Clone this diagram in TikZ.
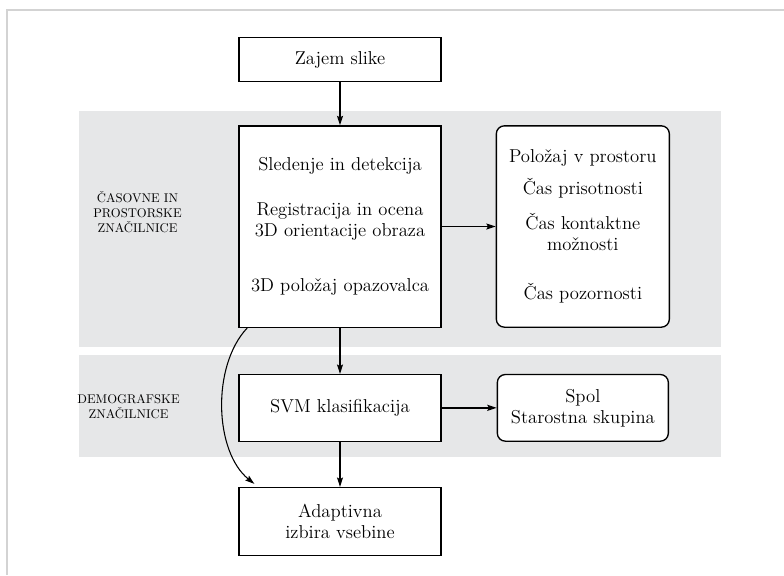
\documentclass[tikz,border=0pt]{standalone}
\usepackage{fontspec}
\usepackage{tikz}
\usetikzlibrary{arrows.meta,positioning}
\definecolor{bandgray}{HTML}{E6E7E8}
\definecolor{framegray}{HTML}{D3D3D3}
\tikzstyle{connector} = [line width=0.8pt,-{Stealth[length=7pt,width=4.5pt,inset=1.2pt]}]
\tikzstyle{stage} = [rectangle, draw, line width=1pt, fill=white, align=center, font=\fontsize{14}{15.75}\selectfont, minimum width=151.5pt]
\tikzstyle{result} = [stage, rounded corners=6pt]
\tikzstyle{band} = [fill=bandgray]
\tikzstyle{bandlabel} = [align=center, font=\fontsize{9.5}{11.25}\selectfont]

\begin{document}
\begin{tikzpicture}[x=0.75pt,y=-0.75pt]
        \useasboundingbox (0,0) rectangle (784,575);
        % frame and bands
        \draw [framegray, line width=1.5pt] (7,575) -- (7,10) -- (784,10);
        \fill [band] (79,111) rectangle (721,347);
        \fill [band] (79,355) rectangle (721,457);
        % stages
        \node (track) [stage, minimum height=151pt] at (340,226.5) {Sledenje in detekcija\\[18pt] Registracija in ocena\\ 3D orientacije obraza\\[25.5pt] 3D položaj opazovalca};
        \node (zajem) [stage, minimum height=33pt, above=32.25pt of track] {Zajem slike};
        \node (props) [result, minimum width=129.75pt, minimum height=151pt, right=40.5pt of track] {Položaj v prostoru\\[8.25pt] Čas prisotnosti\\[10.5pt] Čas kontaktne\\ možnosti\\[21pt] Čas pozornosti};
        \node (svm) [stage, minimum height=50pt, below=34.5pt of track] {SVM klasifikacija};
        \node (spol) [result, minimum width=128.25pt, minimum height=50pt, right=41.25pt of svm] {Spol\\ Starostna skupina};
        \node (adapt) [stage, minimum height=51pt, below=33.75pt of svm] {Adaptivna\\ izbira vsebine};
        % band labels
        \node (time-label) [bandlabel] at (137.5,211.7) {ČASOVNE IN\\ PROSTORSKE\\ ZNAČILNICE};
        \node (demo-label) [bandlabel] at (128.5,406.5) {DEMOGRAFSKE\\ ZNAČILNICE};
        % connectors
        \draw [connector] (zajem) -- (track);
        \draw [connector] (track) -- (props);
        \draw [connector] (track) -- (svm);
        \draw [connector, line width=1.3pt] (svm) -- (spol);
        \draw [connector] (svm) -- (adapt);
        \draw [connector] ([xshift=6.75pt]track.south west) .. controls +(-27pt,-28.5pt) and +(-30pt,24pt) .. ([xshift=12pt,yshift=2.25pt]adapt.north west);
\end{tikzpicture}
\end{document}
